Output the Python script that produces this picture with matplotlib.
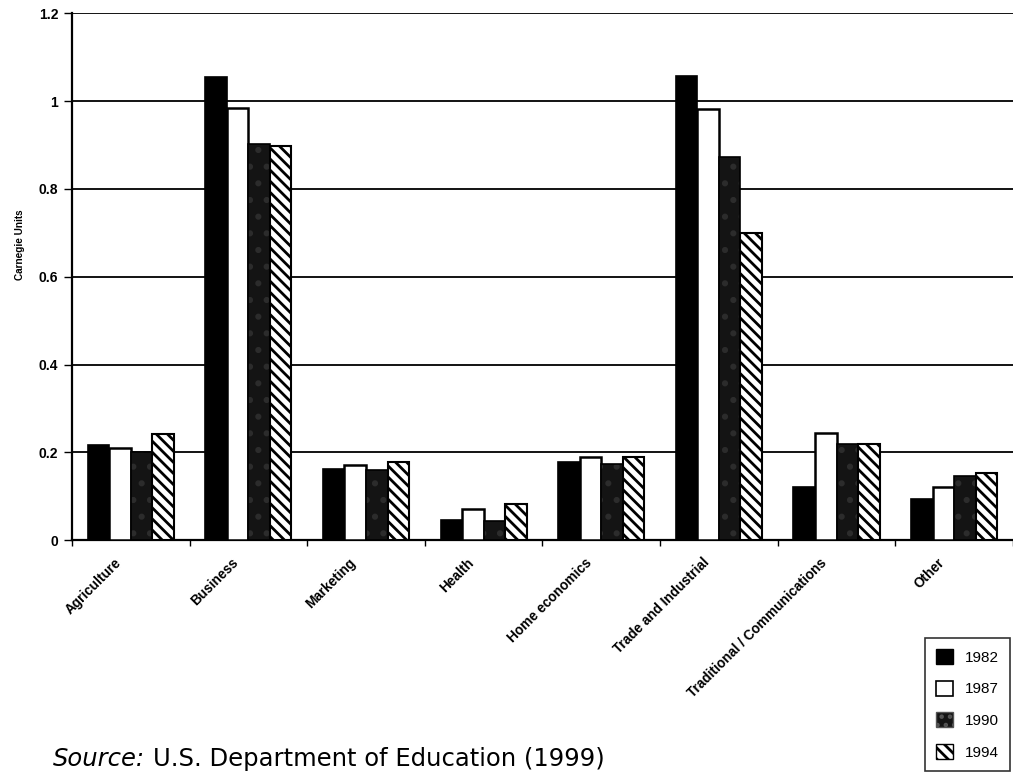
import numpy as np
import matplotlib
matplotlib.use("Agg")
import matplotlib.pyplot as plt
import matplotlib.transforms as mtransforms
from matplotlib.patches import Patch

plt.rcParams['font.family'] = ['Liberation Sans', 'DejaVu Sans']
plt.rcParams['hatch.linewidth'] = 2.0

categories = ['Agriculture', 'Business', 'Marketing', 'Health', 'Home economics',
              'Trade and Industrial', 'Traditional / Communications', 'Other']
years = ['1982', '1987', '1990', '1994']
v1982 = [0.217, 1.055, 0.161, 0.047, 0.179, 1.058, 0.122, 0.093]
v1987 = [0.210, 0.983, 0.172, 0.070, 0.189, 0.982, 0.245, 0.122]
v1990 = [0.200, 0.902, 0.160, 0.043, 0.173, 0.872, 0.220, 0.147]
v1994 = [0.241, 0.897, 0.178, 0.083, 0.190, 0.700, 0.220, 0.154]
y_ticks = [0, 0.2, 0.4, 0.6, 0.8, 1.0, 1.2]
y_labels = ['0', '0.2', '0.4', '0.6', '0.8', '1', '1.2']


def main():
    fig = plt.figure(figsize=(10.13, 7.75), dpi=100)
    ax = fig.add_axes([0.071, 0.303, 0.929, 0.680])

    x = np.arange(len(categories))
    w = 0.183
    # gridlines behind the bars
    for yv in y_ticks[1:]:
        ax.axhline(yv, color='black', lw=1.3, zorder=1)

    ax.bar(x - 1.5 * w, v1982, w, color='black', edgecolor='black', lw=1.2, zorder=3)
    ax.bar(x - 0.5 * w, v1987, w, color='white', edgecolor='black', lw=1.8, zorder=3)
    ax.bar(x + 0.5 * w, v1990, w, color='#141414', edgecolor='#2c2c2c', hatch='.', lw=0, zorder=3)
    ax.bar(x + 0.5 * w, v1990, w, fill=False, edgecolor='black', lw=1.2, zorder=4)
    ax.bar(x + 1.5 * w, v1994, w, color='white', edgecolor='black', hatch='\\\\\\', lw=1.5, zorder=3)

    ax.set_xlim(-0.5, len(categories) - 0.5)
    ax.set_ylim(0, 1.2)
    ax.set_yticks(y_ticks)
    ax.set_yticklabels(y_labels, fontsize=10, fontweight='bold')
    ax.tick_params(axis='y', length=6, width=1, direction='out', pad=4)

    # tick marks between categories, labels at category centres
    ax.set_xticks(np.arange(len(categories) + 1) - 0.5)
    ax.set_xticklabels([])
    ax.tick_params(axis='x', which='major', length=4, width=1, direction='out')
    ax.set_xticks(x, minor=True)
    ax.set_xticklabels(categories, minor=True, rotation=45, ha='right', va='top',
                       rotation_mode='anchor', fontsize=9.8, fontweight='bold')
    ax.tick_params(axis='x', which='minor', length=0, pad=11)
    shift = mtransforms.ScaledTranslation(-17 / 100, 0, fig.dpi_scale_trans)
    for lab in ax.get_xticklabels(minor=True):
        lab.set_transform(lab.get_transform() + shift)

    for side in ['top', 'right']:
        ax.spines[side].set_visible(False)
    ax.spines['left'].set_linewidth(1.6)
    ax.spines['bottom'].set_linewidth(1.6)

    ax.set_ylabel('Carnegie Units', fontsize=7.2, fontweight='bold')
    ax.yaxis.set_label_coords(-0.05, 0.56)

    handles = [
        Patch(facecolor='black', edgecolor='black'),
        Patch(facecolor='white', edgecolor='black', lw=1.2),
        Patch(facecolor='#151515', edgecolor='#555555', hatch='..'),
        Patch(facecolor='white', edgecolor='black', hatch='\\\\\\'),
    ]
    fig.legend(handles, years, loc='upper left', bbox_to_anchor=(0.913, 0.177),
               borderaxespad=0, frameon=True, fancybox=False, edgecolor='black',
               fontsize=11, handlelength=1.1, handleheight=1.1, handletextpad=0.75,
               labelspacing=1.05, borderpad=0.75)
    fig.legends[0].get_frame().set_linewidth(1.2)

    fig.text(0.052, 0.012, 'Source:', fontsize=17.5, style='italic', va='baseline',
             family='DejaVu Sans')
    fig.text(0.151, 0.012, 'U.S. Department of Education (1999)', fontsize=17.5,
             va='baseline', family='DejaVu Sans')

    fig.savefig('out.png', dpi=100)


if __name__ == '__main__':
    main()
